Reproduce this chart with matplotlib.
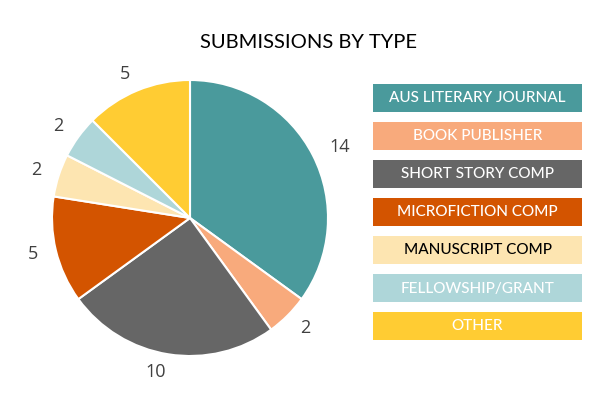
import matplotlib
matplotlib.use("Agg")
import matplotlib.pyplot as plt
from matplotlib.patches import Rectangle

categories = ["AUS LITERARY JOURNAL", "BOOK PUBLISHER", "SHORT STORY COMP",
              "MICROFICTION COMP", "MANUSCRIPT COMP", "FELLOWSHIP/GRANT", "OTHER"]
values = [14, 2, 10, 5, 2, 2, 5]
colors = ["#4a9a9c", "#f8aa7c", "#666666", "#d35400", "#fde5b1", "#aed6d9", "#ffcc33"]
text_colors = ["white", "white", "white", "white", "black", "white", "white"]
title = "SUBMISSIONS BY TYPE"

W, H = 600, 400
fig = plt.figure(figsize=(6, 4), dpi=100)
fig.patch.set_facecolor("white")

# pie axes: center (190,218), radius 138 px
cx, cy, r = 190, 218, 138
ax = fig.add_axes([(cx - r) / W, (H - cy - r) / H, 2 * r / W, 2 * r / H])
wedges, texts = ax.pie(values, colors=colors, startangle=90, counterclock=False,
                       labels=[str(v) for v in values], labeldistance=1.13,
                       wedgeprops=dict(edgecolor="white", linewidth=1.5),
                       textprops=dict(fontsize=13, color="#404040", family="Open Sans"))
ax.set_xlim(-1, 1)
ax.set_ylim(-1, 1)
ax.set_aspect("equal")
ax.axis("off")

fig.text(309 / W, 1 - 42 / H, title, ha="center", va="center",
         fontsize=14.5, family="Lato", color="black")

# legend boxes
lax = fig.add_axes([0, 0, 1, 1])
lax.set_xlim(0, W)
lax.set_ylim(H, 0)
lax.axis("off")
x0, x1 = 373, 582
for i, (cat, col, tc) in enumerate(zip(categories, colors, text_colors)):
    y0 = 84 + 38 * i
    lax.add_patch(Rectangle((x0, y0), x1 - x0, 28, facecolor=col, edgecolor="none"))
    lax.text((x0 + x1) / 2, y0 + 14.5, cat, ha="center", va="center",
             fontsize=11, family="Lato", weight="medium", color=tc)

fig.savefig("out.png", dpi=100)
